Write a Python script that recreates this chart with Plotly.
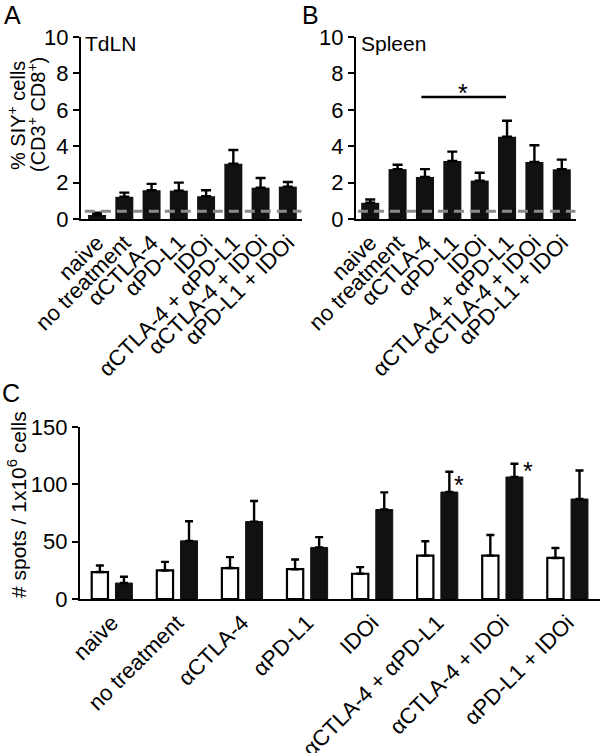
import plotly.graph_objects as go

# ---------------- data ----------------
categories = ["naive", "no treatment", "αCTLA-4", "αPD-L1", "IDOi",
              "αCTLA-4 + αPD-L1", "αCTLA-4 + IDOi", "αPD-L1 + IDOi"]

tdln_mean = [0.22, 1.22, 1.58, 1.56, 1.25, 3.04, 1.72, 1.78]
tdln_err_top = [0.35, 1.45, 1.93, 2.00, 1.58, 3.79, 2.25, 2.03]

spleen_mean = [0.89, 2.74, 2.31, 3.19, 2.11, 4.52, 3.13, 2.73]
spleen_err_top = [1.07, 2.98, 2.74, 3.70, 2.54, 5.40, 4.05, 3.26]

baseline_pct = 0.42

elispot_ctrl = [23.5, 24.9, 27.0, 26.0, 22.0, 37.8, 37.8, 35.8]
elispot_ctrl_err_top = [29.2, 32.4, 36.5, 34.5, 27.8, 50.3, 55.8, 44.5]
elispot_stim = [13.9, 50.7, 67.5, 45.0, 78.0, 93.3, 106.4, 87.2]
elispot_stim_err_top = [19.4, 67.8, 85.4, 54.0, 93.0, 111.0, 118.0, 112.0]

yticks_pct = [0, 2, 4, 6, 8, 10]
yticks_spots = [0, 50, 100, 150]

# ---------------- figure ----------------
W, H = 600, 753
FONT = "Liberation Sans, Arial, Helvetica, sans-serif"
xs = list(range(len(categories)))


def px_x(p):
    return p / W


def px_y(p):
    return 1 - p / H


fig = go.Figure()


def err(mean, top, w=5):
    return dict(type="data", symmetric=False,
                array=[t - m for m, t in zip(mean, top)],
                arrayminus=[0] * len(mean),
                color="black", thickness=2.4, width=w)


fig.add_trace(go.Bar(x=xs, y=tdln_mean, width=0.66, marker=dict(color="#111111", line=dict(width=0)),
                     error_y=err(tdln_mean, tdln_err_top), xaxis="x", yaxis="y", showlegend=False))
fig.add_trace(go.Bar(x=xs, y=spleen_mean, width=0.66, marker=dict(color="#111111", line=dict(width=0)),
                     error_y=err(spleen_mean, spleen_err_top), xaxis="x2", yaxis="y2", showlegend=False))

fig.add_trace(go.Bar(x=xs, y=elispot_ctrl, width=0.25, offset=-0.31,
                     marker=dict(color="white", line=dict(color="black", width=2.2)),
                     error_y=err(elispot_ctrl, elispot_ctrl_err_top, 4), xaxis="x3", yaxis="y3",
                     showlegend=False))
fig.add_trace(go.Bar(x=xs, y=elispot_stim, width=0.26, offset=0.055,
                     marker=dict(color="#111111", line=dict(color="#111111", width=1)),
                     error_y=err(elispot_stim, elispot_stim_err_top, 4), xaxis="x3", yaxis="y3",
                     showlegend=False))

# dashed baseline in A and B
for xa, ya, x0 in (("x", "y", -0.45), ("x2", "y2", -0.45)):
    fig.add_trace(go.Scatter(x=[x0, 7.5], y=[baseline_pct, baseline_pct], mode="lines",
                             line=dict(color="#8a8a8a", width=3, dash="10px,6px"),
                             xaxis=xa, yaxis=ya, showlegend=False, hoverinfo="skip"))

# significance bar in B
fig.add_trace(go.Scatter(x=[1.87, 4.96], y=[6.7, 6.7], mode="lines",
                         line=dict(color="black", width=2.5),
                         xaxis="x2", yaxis="y2", showlegend=False, hoverinfo="skip"))

axis_common = dict(showline=True, linecolor="black", linewidth=2.4, showgrid=False, zeroline=False,
                   automargin=False, tickfont=dict(family=FONT, size=22, color="black"))

xcat = dict(axis_common, tickvals=xs, ticktext=categories, tickangle=-45, ticks="",
            tickfont=dict(family=FONT, size=22, color="black"))
ynum = dict(axis_common, ticks="outside", ticklen=6, tickwidth=2.4, tickcolor="black")

fig.update_layout(
    width=W, height=H,
    margin=dict(l=0, r=0, t=0, b=0, autoexpand=False),
    paper_bgcolor="white", plot_bgcolor="white",
    barmode="overlay",
    font=dict(family=FONT, color="black"),
    xaxis=dict(xcat, domain=[px_x(81), px_x(302)], range=[-0.59, 7.52], anchor="y"),
    yaxis=dict(ynum, domain=[px_y(219), px_y(37)], range=[0, 10], tickvals=yticks_pct, anchor="x"),
    xaxis2=dict(xcat, domain=[px_x(356), px_x(576)], range=[-0.52, 7.52], anchor="y2"),
    yaxis2=dict(ynum, domain=[px_y(219), px_y(37)], range=[0, 10], tickvals=yticks_pct, anchor="x2"),
    xaxis3=dict(xcat, domain=[px_x(80), px_x(600)], range=[-0.49, 7.5], anchor="y3"),
    yaxis3=dict(ynum, domain=[px_y(599), px_y(427)], range=[0, 150], tickvals=yticks_spots, anchor="x3"),
)

ann = []


def add_text(text, x, y, size, xanchor="center", yanchor="middle", angle=0):
    ann.append(dict(text=text, x=px_x(x), y=px_y(y), xref="paper", yref="paper",
                    showarrow=False, xanchor=xanchor, yanchor=yanchor, textangle=angle,
                    font=dict(family=FONT, size=size, color="black")))


add_text("A", 2, 15, 25, xanchor="left")
add_text("B", 300, 15, 25, xanchor="left")
add_text("C", 0, 393, 25, xanchor="left")
add_text("TdLN", 83, 44, 21, xanchor="left")
add_text("Spleen", 359, 44, 21, xanchor="left")
add_text("% SIY<sup>+</sup> cells", 17, 116, 20, angle=-90)
add_text("(CD3<sup>+</sup> CD8<sup>+</sup>)", 37, 115, 20, angle=-90)
add_text("# spots / 1x10<sup>6</sup> cells", 17, 505, 21, angle=-90)
fig.update_layout(annotations=ann)

# stars as data-anchored annotations
stars = [("x2", "y2", 3.38, 6.92), ("x3", "y3", 5.34, 99), ("x3", "y3", 6.4, 112)]
for xa, ya, sx, sy in stars:
    fig.add_annotation(text="*", x=sx, y=sy, xref=xa, yref=ya, showarrow=False,
                       font=dict(family=FONT, size=25, color="black"))

fig.write_html("out.html", config={"displayModeBar": False},
               post_script="document.body.style.margin='0';document.body.style.overflow='hidden';")
